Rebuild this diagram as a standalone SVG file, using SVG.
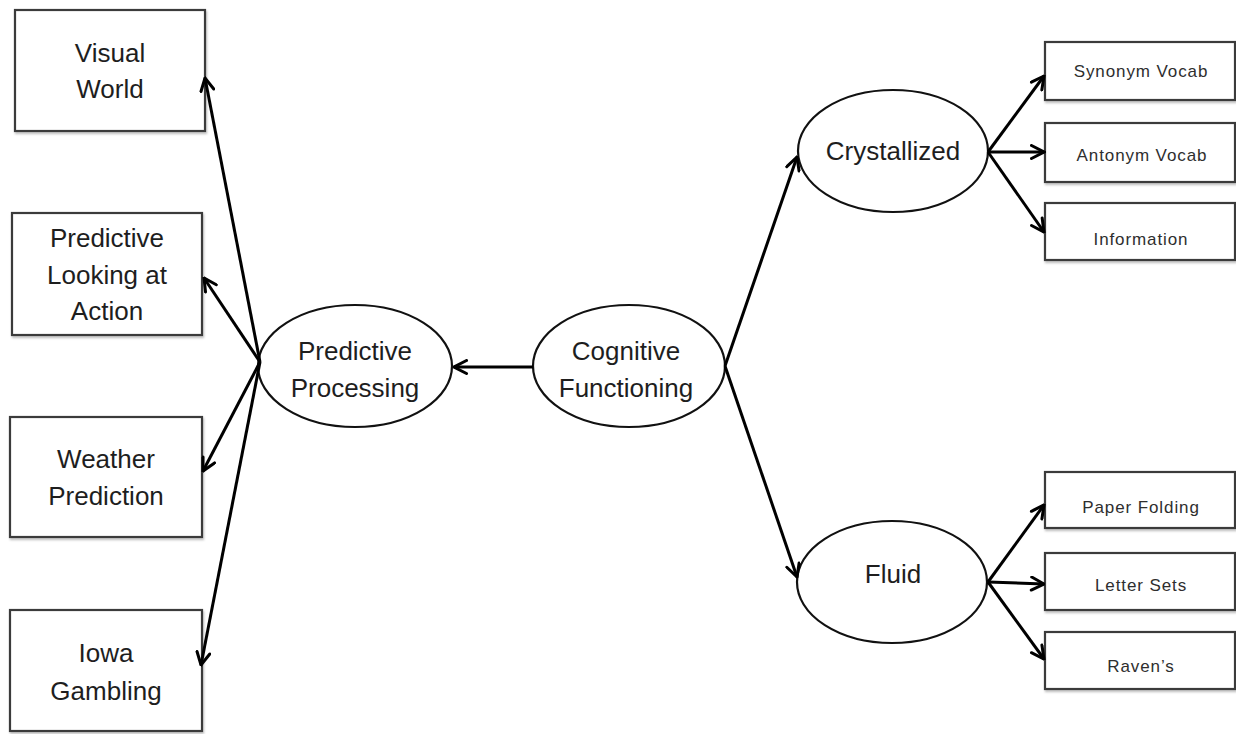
<svg xmlns="http://www.w3.org/2000/svg" width="1236" height="734" viewBox="0 0 1236 734">
  <defs>
    <marker id="arrow" viewBox="0 0 16 16" refX="14.5" refY="8" markerWidth="16" markerHeight="16" markerUnits="userSpaceOnUse" orient="auto">
      <polyline points="2,1.5 14.5,8 2,14.5" fill="none" stroke="#000" stroke-width="3" stroke-linejoin="miter" stroke-linecap="round"/>
    </marker>
    <filter id="shadow" x="-5%" y="-5%" width="110%" height="115%">
      <feDropShadow dx="1" dy="2" stdDeviation="1" flood-color="#000" flood-opacity="0.25"/>
    </filter>
  </defs>
  <style>
    .box { fill: #fff; stroke: #3a3a3a; stroke-width: 2.2; filter: url(#shadow); }
    .oval { fill: #fff; stroke: #111; stroke-width: 2.2; }
    .big { font-family: "Liberation Sans", Arial, sans-serif; font-size: 26px; fill: #1e1e1e; text-anchor: middle; }
    .small { font-family: "Liberation Sans", Arial, sans-serif; font-size: 17px; fill: #2e2e2e; text-anchor: middle; letter-spacing: 0.9px; }
    .edge { fill: none; stroke: #000; stroke-width: 3; marker-end: url(#arrow); }
  </style>
  <rect width="1236" height="734" fill="#fff"/>

  <!-- left task boxes -->
  <g id="visual-world">
    <rect class="box" x="15" y="10" width="190" height="121"/>
    <text class="big" x="110" y="62">Visual</text>
    <text class="big" x="110" y="98">World</text>
  </g>
  <g id="predictive-looking">
    <rect class="box" x="12" y="213" width="190" height="122"/>
    <text class="big" x="107" y="247">Predictive</text>
    <text class="big" x="107" y="284">Looking at</text>
    <text class="big" x="107" y="320">Action</text>
  </g>
  <g id="weather-prediction">
    <rect class="box" x="10" y="417" width="192" height="120"/>
    <text class="big" x="106" y="468">Weather</text>
    <text class="big" x="106" y="505">Prediction</text>
  </g>
  <g id="iowa-gambling">
    <rect class="box" x="10" y="610" width="192" height="121"/>
    <text class="big" x="106" y="662">Iowa</text>
    <text class="big" x="106" y="700">Gambling</text>
  </g>

  <!-- central constructs -->
  <g id="predictive-processing">
    <ellipse class="oval" cx="355" cy="366" rx="97" ry="61"/>
    <text class="big" x="355" y="360">Predictive</text>
    <text class="big" x="355" y="397">Processing</text>
  </g>
  <g id="cognitive-functioning">
    <ellipse class="oval" cx="629" cy="366" rx="96" ry="61"/>
    <text class="big" x="626" y="360">Cognitive</text>
    <text class="big" x="626" y="397">Functioning</text>
  </g>
  <g id="crystallized">
    <ellipse class="oval" cx="893" cy="151" rx="95" ry="61"/>
    <text class="big" x="893" y="160">Crystallized</text>
  </g>
  <g id="fluid">
    <ellipse class="oval" cx="892" cy="582" rx="95" ry="61"/>
    <text class="big" x="893" y="583">Fluid</text>
  </g>

  <!-- right measure boxes -->
  <g id="synonym-vocab">
    <rect class="box" x="1045" y="42" width="190" height="58"/>
    <text class="small" x="1141" y="77">Synonym Vocab</text>
  </g>
  <g id="antonym-vocab">
    <rect class="box" x="1045" y="123" width="190" height="59"/>
    <text class="small" x="1142" y="161">Antonym Vocab</text>
  </g>
  <g id="information">
    <rect class="box" x="1045" y="203" width="190" height="57"/>
    <text class="small" x="1141" y="245">Information</text>
  </g>
  <g id="paper-folding">
    <rect class="box" x="1045" y="472" width="190" height="56"/>
    <text class="small" x="1141" y="513">Paper Folding</text>
  </g>
  <g id="letter-sets">
    <rect class="box" x="1045" y="553" width="190" height="57"/>
    <text class="small" x="1141" y="591">Letter Sets</text>
  </g>
  <g id="ravens">
    <rect class="box" x="1045" y="632" width="190" height="57"/>
    <text class="small" x="1141" y="672">Raven’s</text>
  </g>

  <!-- connectors, drawn last so the heads sit on top of the node borders -->
  <g id="connectors">
    <line class="edge" x1="533" y1="367" x2="454" y2="367"/>
    <line class="edge" x1="260" y1="362" x2="205" y2="78"/>
    <line class="edge" x1="260" y1="362" x2="204" y2="278"/>
    <line class="edge" x1="260" y1="362" x2="203" y2="471"/>
    <line class="edge" x1="260" y1="362" x2="201" y2="665"/>
    <line class="edge" x1="725" y1="366" x2="797" y2="157"/>
    <line class="edge" x1="725" y1="366" x2="797" y2="577"/>
    <line class="edge" x1="988" y1="152" x2="1044" y2="76"/>
    <line class="edge" x1="988" y1="152" x2="1044" y2="152"/>
    <line class="edge" x1="988" y1="152" x2="1044" y2="232"/>
    <line class="edge" x1="988" y1="582" x2="1044" y2="505"/>
    <line class="edge" x1="988" y1="582" x2="1044" y2="584"/>
    <line class="edge" x1="988" y1="582" x2="1044" y2="659"/>
  </g>
</svg>
